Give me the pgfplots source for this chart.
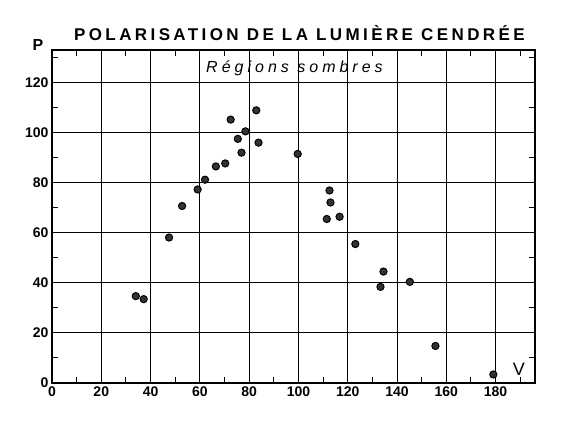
\documentclass[border=0pt]{standalone}
\usepackage{fontspec}
\setmainfont{Liberation Sans}
\usepackage{pgfplots}
\pgfplotsset{compat=1.18}
\usetikzlibrary{calc}

\begin{document}
\begin{tikzpicture}
\begin{axis}[
    name=ax,
    scale only axis,
    width=483pt, height=333pt,
    xmin=0, xmax=196,
    ymin=0, ymax=133,
    xtick={0,20,...,180},
    ytick={0,20,...,120},
    minor xtick={10,30,...,190},
    minor ytick={10,30,...,130},
    tick pos=both,
    xticklabel pos=lower, yticklabel pos=left,
    tick align=inside,
    major tick length=0pt,
    minor tick length=6pt,
    grid=major,
    major grid style={black, line width=1pt},
    axis line style={line width=1.8pt},
    tick style={black, line width=1pt},
    ticklabel style={font=\bfseries\fontsize{14}{14}\selectfont},
    /pgf/number format/assume math mode=true,
    clip=false,
]
\addplot[only marks, mark=*, mark size=3.6pt,
    mark options={draw=black, fill=black!80, line width=1pt}] coordinates {
    (34,34.7) (37.2,33.5) (47.5,58.1) (52.8,70.7) (59.1,77.3) (62.1,81.2)
    (66.5,86.5) (70.3,87.7) (72.5,105.2) (75.4,97.5) (76.9,92) (78.5,100.5)
    (82.9,108.9) (83.8,96) (99.7,91.5) (112.6,76.9) (113,72.1) (111.5,65.5)
    (116.7,66.4) (123.1,55.5) (134.5,44.5) (133.3,38.4) (145.2,40.4)
    (155.6,14.8) (179.1,3.4)
};
\node[font=\bfseries\fontsize{17}{17}\selectfont\addfontfeatures{LetterSpace=20}]
    at (axis cs:100.4,139.6) {POLARISATION DE LA LUMIÈRE CENDRÉE};
\node[font=\itshape\fontsize{16}{16}\selectfont\addfontfeatures{LetterSpace=25}]
    at (axis cs:98.4,125.6) {Régions sombres};
\node[font=\bfseries\fontsize{16}{16}\selectfont] at (axis cs:-5.7,134.8) {P};
\node[font=\fontsize{18}{18}\selectfont] at (axis cs:189.5,5.5) {V};
\end{axis}
\pgfresetboundingbox
\path ($(ax.south west)+(-52pt,-53pt)$) rectangle ($(ax.north east)+(45pt,50pt)$);
\end{tikzpicture}
\end{document}
